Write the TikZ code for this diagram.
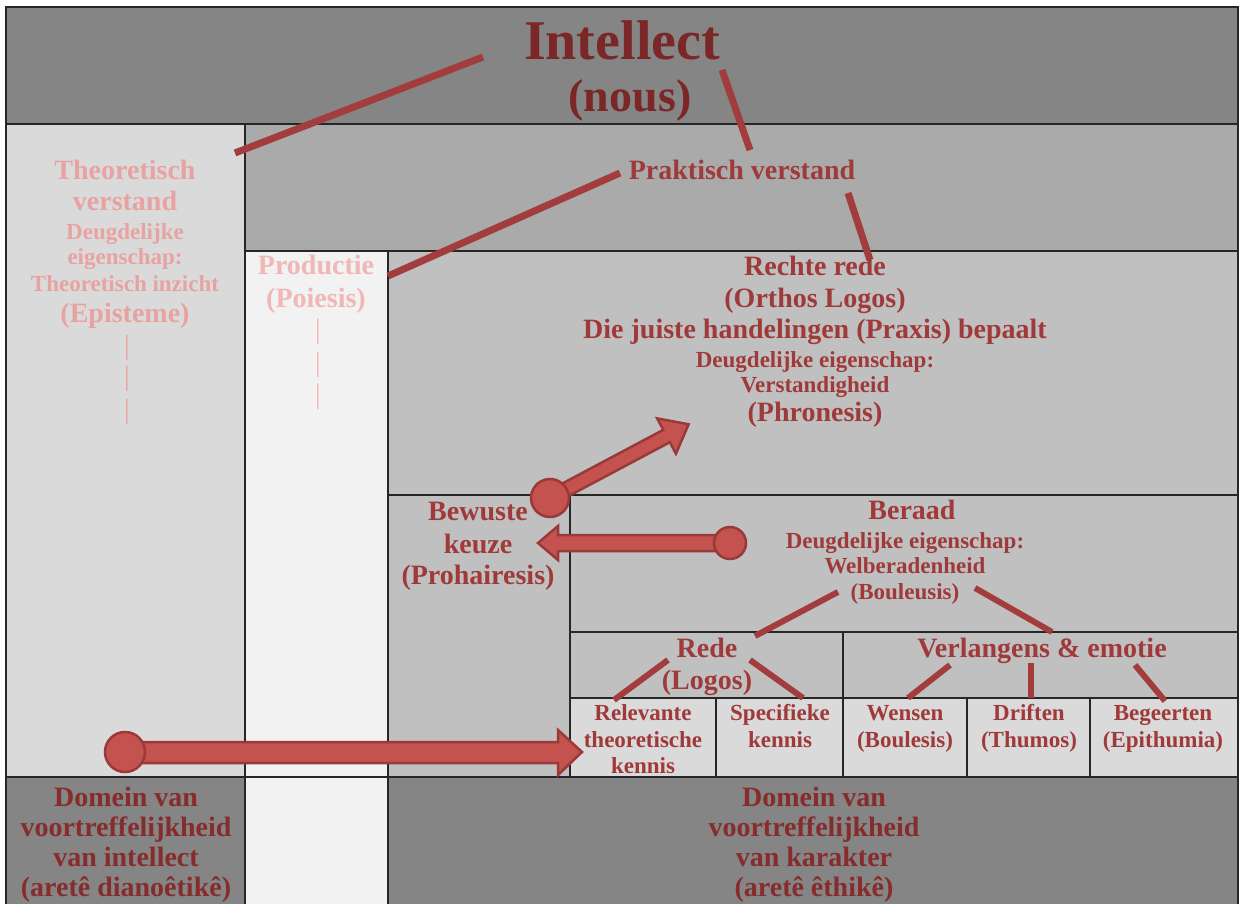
\documentclass[tikz,border=0pt]{standalone}
\usepackage{fontspec}
\setmainfont{Liberation Serif}
\definecolor{txtred}{HTML}{A03A3A}
\definecolor{deepred}{HTML}{7B2727}
\definecolor{domred}{HTML}{862C2C}
\definecolor{paleA}{HTML}{E8A2A2}
\definecolor{paleB}{HTML}{F1B6B6}
\definecolor{linkred}{HTML}{A33C3C}
\definecolor{arrfill}{HTML}{C4524F}
\definecolor{arrdraw}{HTML}{9A3A38}
\definecolor{gDark}{HTML}{858585}
\definecolor{gMid}{HTML}{AAAAAA}
\definecolor{gCell}{HTML}{C0C0C0}
\definecolor{gLight}{HTML}{DADADA}
\definecolor{gPale}{HTML}{F2F2F2}
\begin{document}
\begin{tikzpicture}[x=1pt,y=-1pt,
  big/.style={font=\fontsize{28}{32}\selectfont\bfseries, text=txtred, inner sep=0pt, anchor=base},
  small/.style={font=\fontsize{23}{26}\selectfont\bfseries, text=txtred, inner sep=0pt, anchor=base},
  link/.style={line width=7pt, draw=linkred},
  sublink/.style={line width=6pt, draw=linkred},
  blockarrow/.style={fill=arrfill, draw=arrdraw, line width=2.5pt, line join=miter},
  cellbox/.style={draw=black!85, line width=1.3pt}]
\useasboundingbox (0,0) rectangle (1240,904);
\fill[white] (0,0) rectangle (1240,904);
% cells
\filldraw[cellbox, fill=gDark] (6,7) rectangle (1238,124);
\filldraw[cellbox, fill=gLight] (6,124) rectangle (245,777);
\filldraw[cellbox, fill=gMid] (245,124) rectangle (1238,251);
\filldraw[cellbox, fill=gPale] (245,251) rectangle (388,777);
\filldraw[cellbox, fill=gCell] (388,251) rectangle (1238,495);
\filldraw[cellbox, fill=gCell] (388,495) rectangle (570,777);
\filldraw[cellbox, fill=gCell] (570,495) rectangle (1238,632);
\filldraw[cellbox, fill=gCell] (570,632) rectangle (843,698);
\filldraw[cellbox, fill=gCell] (843,632) rectangle (1238,698);
\filldraw[cellbox, fill=gLight] (570,698) rectangle (716,777);
\filldraw[cellbox, fill=gLight] (716,698) rectangle (843,777);
\filldraw[cellbox, fill=gLight] (843,698) rectangle (967,777);
\filldraw[cellbox, fill=gLight] (967,698) rectangle (1090,777);
\filldraw[cellbox, fill=gLight] (1090,698) rectangle (1238,777);
\filldraw[cellbox, fill=gDark] (6,777) rectangle (245,910);
\filldraw[cellbox, fill=gPale] (245,777) rectangle (388,910);
\filldraw[cellbox, fill=gDark] (388,777) rectangle (1238,910);

% texts
\node[big, font=\fontsize{56}{60}\selectfont\bfseries, text=deepred] (intel) at (622,60) {Intellect};
\node[big, font=\fontsize{46}{50}\selectfont\bfseries, text=deepred] (nous) at (630,112) {(nous)};
\node[big] (prakt) at (742,180) {Praktisch verstand};

\node[big, text=paleA] (th1) at (125,180) {Theoretisch};
\node[big, text=paleA] (th2) at (125,211) {verstand};
\node[small, text=paleA] (th3) at (125,240) {Deugdelijke};
\node[small, text=paleA] (th4) at (125,265) {eigenschap:};
\node[small, text=paleA] (th5) at (125,291) {Theoretisch inzicht};
\node[big, text=paleA] (th6) at (125,322) {(Episteme)};
\node[big, font=\fontsize{28}{32}\selectfont, text=paleA] (thd1) at (127,354) {|};
\node[big, font=\fontsize{28}{32}\selectfont, text=paleA] (thd2) at (127,385) {|};
\node[big, font=\fontsize{28}{32}\selectfont, text=paleA] (thd3) at (127,418) {|};

\node[big, text=paleB] (pr1) at (316,275) {Productie};
\node[big, text=paleB] (pr2) at (316,307) {(Poiesis)};
\node[big, font=\fontsize{28}{32}\selectfont, text=paleB] (prd1) at (318,338) {|};
\node[big, font=\fontsize{28}{32}\selectfont, text=paleB] (prd2) at (318,371) {|};
\node[big, font=\fontsize{28}{32}\selectfont, text=paleB] (prd3) at (318,403) {|};

\node[big] (rr1) at (815,276) {Rechte rede};
\node[big] (rr2) at (815,307) {(Orthos Logos)};
\node[big] (rr3) at (815,338) {Die juiste handelingen (Praxis) bepaalt};
\node[small] (rr4) at (815,367) {Deugdelijke eigenschap:};
\node[small] (rr5) at (815,392) {Verstandigheid};
\node[big] (rr6) at (815,421) {(Phronesis)};

\node[big] (bk1) at (478,520) {Bewuste};
\node[big] (bk2) at (478,553) {keuze};
\node[big] (bk3) at (478,584) {(Prohairesis)};

\node[big] (be1) at (912,519) {Beraad};
\node[small] (be2) at (905,548) {Deugdelijke eigenschap:};
\node[small] (be3) at (905,573) {Welberadenheid};
\node[small] (be4) at (905,599) {(Bouleusis)};

\node[big] (re1) at (707,657) {Rede};
\node[big] (re2) at (707,689) {(Logos)};
\node[big] (ve1) at (1042,657) {Verlangens \& emotie};

\node[small] (c1a) at (643,720) {Relevante};
\node[small] (c1b) at (643,747) {theoretische};
\node[small] (c1c) at (643,773) {kennis};
\node[small] (c2a) at (780,720) {Specifieke};
\node[small] (c2b) at (780,747) {kennis};
\node[small] (c3a) at (905,720) {Wensen};
\node[small] (c3b) at (905,747) {(Boulesis)};
\node[small] (c4a) at (1029,720) {Driften};
\node[small] (c4b) at (1029,747) {(Thumos)};
\node[small] (c5a) at (1163,720) {Begeerten};
\node[small] (c5b) at (1163,747) {(Epithumia)};

\node[big, text=domred] (dl1) at (126,806) {Domein van};
\node[big, text=domred] (dl2) at (126,836) {voortreffelijkheid};
\node[big, text=domred] (dl3) at (126,866) {van intellect};
\node[big, text=domred] (dl4) at (126,896) {(aretê dianoêtikê)};
\node[big, text=domred] (dr1) at (814,806) {Domein van};
\node[big, text=domred] (dr2) at (814,836) {voortreffelijkheid};
\node[big, text=domred] (dr3) at (814,866) {van karakter};
\node[big, text=domred] (dr4) at (814,896) {(aretê êthikê)};

% connector end points
\coordinate (iA) at (483,57);
\coordinate (thA) at (235,153);
\coordinate (iB) at (722,70);
\coordinate (pkA) at (750,150);
\coordinate (pkB) at (620,173);
\coordinate (poA) at (388,276);
\coordinate (pkC) at (848,193);
\coordinate (rrA) at (870,260);
\coordinate (beA) at (838,592);
\coordinate (reA) at (755,636);
\coordinate (beB) at (975,588);
\coordinate (veA) at (1052,632);
\coordinate (reB) at (668,660);
\coordinate (c1t) at (614,700);
\coordinate (reC) at (750,660);
\coordinate (c2t) at (803,698);
\coordinate (veB) at (950,665);
\coordinate (c3t) at (908,698);
\coordinate (veC) at (1031,663);
\coordinate (c4t) at (1031,698);
\coordinate (veD) at (1135,665);
\coordinate (c5t) at (1165,701);

\draw[link] (iA) -- (thA);
\draw[link] (iB) -- (pkA);
\draw[link] (pkB) -- (poA);
\draw[link] (pkC) -- (rrA);
\draw[sublink] (beA) -- (reA);
\draw[sublink] (beB) -- (veA);
\draw[sublink] (reB) -- (c1t);
\draw[sublink] (reC) -- (c2t);
\draw[sublink] (veB) -- (c3t);
\draw[sublink] (veC) -- (c4t);
\draw[sublink] (veD) -- (c5t);

% block arrows
\begin{scope}[shift={(550,498)}, rotate=28]
  \filldraw[blockarrow] (0,-7) -- (132,-7) -- (132,-20) -- (157,0) -- (132,20) -- (132,7) -- (0,7) -- cycle;
  \filldraw[blockarrow] (0,0) circle[radius=19];
\end{scope}
\filldraw[blockarrow] (730,535) -- (558,535) -- (558,526) -- (538,543) -- (558,560) -- (558,551) -- (730,551) -- cycle;
\filldraw[blockarrow] (730,543) circle[radius=16];
\filldraw[blockarrow] (125,742) -- (558,742) -- (558,730) -- (582,752) -- (558,775) -- (558,763) -- (125,763) -- cycle;
\filldraw[blockarrow] (125,752) circle[radius=20];
\end{tikzpicture}
\end{document}
